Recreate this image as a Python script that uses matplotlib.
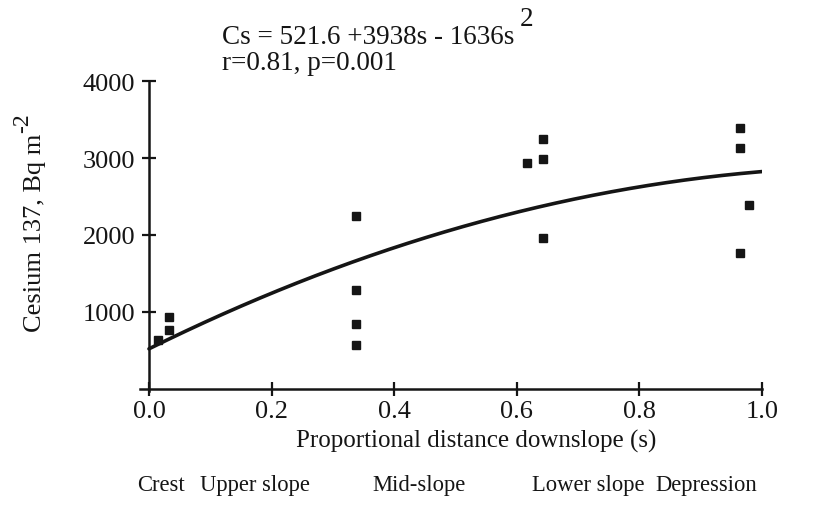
import matplotlib
matplotlib.use("Agg")
import matplotlib.pyplot as plt
import numpy as np

# ---- data ----
s_values = [0.014, 0.032, 0.032,
            0.338, 0.338, 0.338, 0.338,
            0.616, 0.643, 0.643, 0.643,
            0.964, 0.964, 0.978, 0.964]
cs_values = [630, 940, 770,
             2250, 1280, 845, 570,
             2930, 3250, 2990, 1960,
             3390, 3130, 2390, 1760]
fit_coeffs = [521.6, 3938.0, -1636.0]   # Cs = a + b s + c s^2 (as stated on chart)
categories = ["Crest", "Upper slope", "Mid-slope", "Lower slope", "Depression"]
x_ticks = [0.0, 0.2, 0.4, 0.6, 0.8, 1.0]
y_ticks = [1000, 2000, 3000, 4000]

# ---- style ----
plt.rcParams['font.family'] = ['Liberation Serif', 'DejaVu Serif']
FS_TICK = 19
FS_EQ = 19.5
FS_LAB = 18
FS_YLAB = 19
FS_CAT = 16.3
ink = '#151515'

W, H = 815, 510
fig = plt.figure(figsize=(W / 100, H / 100), dpi=100)
ax = fig.add_axes([0.1715, 0.2308, 0.7635, 0.6084])

s_line = np.linspace(0, 1, 200)
cs_line = fit_coeffs[0] + fit_coeffs[1] * s_line + fit_coeffs[2] * s_line ** 2
ax.plot(s_line, cs_line, color=ink, lw=2.6, solid_capstyle='round')
ax.plot(s_values, cs_values, linestyle='none', marker='s', ms=5.2,
        color=ink, mec=ink)

ax.set_xlim(-0.015, 1.0)
ax.set_ylim(-30, 4000)
ax.spines['top'].set_visible(False)
ax.spines['right'].set_visible(False)
ax.spines['left'].set_position(('data', 0))
ax.spines['bottom'].set_position(('data', 0))
for sp in ('left', 'bottom'):
    ax.spines[sp].set_linewidth(1.8)
    ax.spines[sp].set_color(ink)

ax.set_xticks(x_ticks)
ax.set_xticklabels([f"{v:.1f}" for v in x_ticks])
ax.set_yticks(y_ticks)
ax.set_yticklabels([str(v) for v in y_ticks])
ax.tick_params(axis='x', direction='inout', length=10, width=1.6, color=ink,
               labelsize=FS_TICK, pad=3, labelcolor=ink)
ax.tick_params(axis='y', direction='inout', length=10, width=1.6, color=ink,
               labelsize=FS_TICK, pad=5, labelcolor=ink)


def fig_xy(px, py):
    return px / W, 1 - py / H


# x label
fig.text(*fig_xy(476, 441), "Proportional distance downslope (s)",
         fontsize=FS_LAB, color=ink, ha='center', va='center')

# y label with full-size raised superscript
yl = fig.text(*fig_xy(35, 332), "Cesium 137, Bq m", fontsize=FS_YLAB, color=ink,
              rotation=90, ha='center', va='bottom')
fig.canvas.draw()
yb = yl.get_window_extent()
fig.text((yb.x0 - 1) / W, (yb.y1 + 1) / H, "-2", fontsize=FS_YLAB * 0.9,
         color=ink, rotation=90, ha='center', va='bottom')

# equation text
t1 = fig.text(*fig_xy(222, 37), "Cs = 521.6 +3938s - 1636s", fontsize=FS_EQ,
              color=ink, ha='left', va='center')
fig.canvas.draw()
bb = t1.get_window_extent()
fig.text((bb.x1 + 5) / W, (bb.y1 + 5) / H, "2", fontsize=FS_EQ, color=ink,
         ha='left', va='center')
fig.text(*fig_xy(222, 63), "r=0.81, p=0.001", fontsize=FS_EQ, color=ink,
         ha='left', va='center')

# slope position categories
cat_x_px = [161, 255, 419, 588, 706]
for name, px in zip(categories, cat_x_px):
    fig.text(*fig_xy(px, 486), name, fontsize=FS_CAT, color=ink,
             ha='center', va='center')

fig.savefig("out.png", dpi=100, facecolor='white')
